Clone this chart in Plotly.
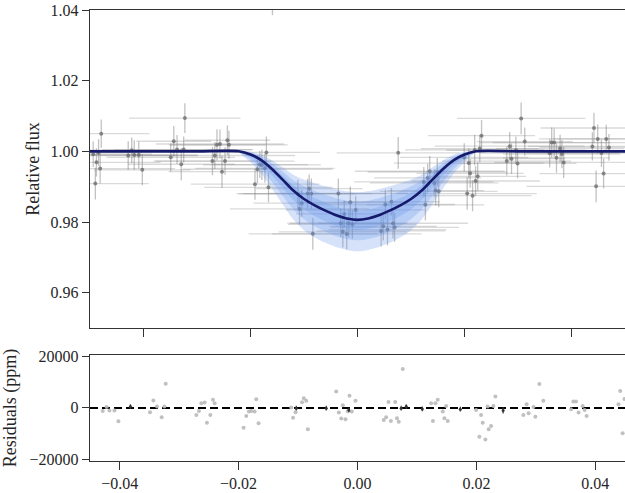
import numpy as np
import plotly.graph_objects as go

# ---------------- data ----------------
# best-fit model
model_t = [-0.05, -0.030, -0.0222, -0.020, -0.018, -0.016, -0.014, -0.012, -0.010, -0.008,
           -0.006, -0.004, -0.002, 0.0, 0.002, 0.004, 0.006, 0.008, 0.010, 0.012, 0.014,
           0.016, 0.018, 0.020, 0.0222, 0.030, 0.05]
model_flux = [1.0, 1.0, 1.0, 0.9991, 0.9975, 0.9950, 0.9920, 0.9889, 0.9865, 0.9847,
              0.9832, 0.9819, 0.9810, 0.9806, 0.9810, 0.9819, 0.9832, 0.9847, 0.9865, 0.9889,
              0.9920, 0.9950, 0.9975, 0.9991, 1.0, 1.0, 1.0]

# credible bands (offsets above / below the model) on the in-transit grid
band_t = [-0.0222, -0.020, -0.018, -0.016, -0.014, -0.012, -0.010, -0.008, -0.006, -0.004,
          -0.002, 0.0, 0.002, 0.004, 0.006, 0.008, 0.010, 0.012, 0.014, 0.016, 0.018, 0.020, 0.0222]
up3 = [0, 0.0008, 0.0016, 0.0025, 0.0035, 0.0045, 0.0055, 0.0063, 0.0069, 0.0074, 0.0077, 0.0078,
       0.0077, 0.0074, 0.0069, 0.0063, 0.0055, 0.0045, 0.0035, 0.0025, 0.0016, 0.0008, 0]
lo3 = [0, 0.0022, 0.0038, 0.0055, 0.0070, 0.0082, 0.0088, 0.0091, 0.0091, 0.0090, 0.0089, 0.0089,
       0.0089, 0.0090, 0.0091, 0.0091, 0.0088, 0.0082, 0.0070, 0.0055, 0.0038, 0.0022, 0]
up2 = [0, 0.0005, 0.0010, 0.0016, 0.0023, 0.0029, 0.0036, 0.0041, 0.0045, 0.0048, 0.0050, 0.0051,
       0.0050, 0.0048, 0.0045, 0.0041, 0.0036, 0.0029, 0.0023, 0.0016, 0.0010, 0.0005, 0]
lo2 = [0, 0.0014, 0.0025, 0.0036, 0.0046, 0.0053, 0.0057, 0.0059, 0.0059, 0.0059, 0.0058, 0.0058,
       0.0058, 0.0059, 0.0059, 0.0059, 0.0057, 0.0053, 0.0046, 0.0036, 0.0025, 0.0014, 0]
up1 = [0, 0.0003, 0.0005, 0.0008, 0.0012, 0.0015, 0.0018, 0.0021, 0.0023, 0.0024, 0.0025, 0.0026,
       0.0025, 0.0024, 0.0023, 0.0021, 0.0018, 0.0015, 0.0012, 0.0008, 0.0005, 0.0003, 0]
lo1 = [0, 0.0007, 0.0013, 0.0018, 0.0023, 0.0027, 0.0029, 0.0030, 0.0030, 0.0030, 0.0029, 0.0029,
       0.0029, 0.0030, 0.0030, 0.0030, 0.0029, 0.0027, 0.0023, 0.0018, 0.0013, 0.0007, 0]

# observations: time, residual (ppm), time error, flux error
time = [-0.0490, -0.0488, -0.0484, -0.0481, -0.0479, -0.0494,
        -0.04286, -0.04173, -0.04089, -0.04022, -0.04220,
        -0.03491, -0.03434, -0.03373, -0.03294, -0.03227, -0.03249,
        -0.02711, -0.02667, -0.02627, -0.02571, -0.02533, -0.02476, -0.02432, -0.02403,
        -0.01916, -0.01871, -0.01827, -0.01787, -0.01731, -0.01703, -0.01664,
        -0.01114, -0.01084, -0.01042, -0.00933, -0.00903, -0.00862, -0.00835,
        -0.00358, -0.00314, -0.00274, -0.00247, -0.00202, -0.00163, -0.00134, -0.00096, -0.00034,
        0.00442, 0.00482, 0.00521, 0.00561, 0.00634, 0.00664, 0.00694, 0.00761,
        0.01239, 0.01269, 0.01311, 0.01350, 0.01434, 0.01462, 0.01491, 0.01518,
        0.01995, 0.02079, 0.02106, 0.02050, 0.02151, 0.02207, 0.02247, 0.02190, 0.02286, 0.02319,
        0.02790, 0.02845, 0.02879, 0.02960, 0.02992, 0.03059, 0.03126,
        0.03592, 0.03630, 0.03676, 0.03719, 0.03787, 0.03820, 0.03854,
        0.0439, 0.0442, 0.0446, 0.0449, 0.0456, 0.0460, 0.0465, 0.0470,
        -0.0159]
resid_ppm = [-9120, -3110, -370, -4890, 5000, -800,
             -1180, -1060, -1060, -5220, 300,
             -1690, 2860, 510, -3650, 9410, 510,
             -2750, -1180, 1840, 2080, -5770, -2750, 3140, 1840,
             -7730, -3140, -1450, -1180, -1450, 3410, -6000,
             120, -3800, -1690, 2160, 3800, 2750, -8350,
             6390, -1840, -4120, 1060, -4390, -1290, 4710, -1450, 2750,
             -4710, -3650, 2270, -5100, 2270, -4040, -5410, 15180,
             1840, -5100, 1840, 3140, -1450, -4040, 780, -5100,
             -780, -2750, -5770, -11260, -12280, -8350, -7060, 510, 780, 4430,
             -2750, 1450, -2080, 300, -3410, 9300, 2750,
             -510, 2470, 2470, -1840, 780, -780, -3140,
             1400, 6600, -9900, 3500, -500, -6300, 3500, 1100,
             51100]
time_err = [0.010, 0.012, 0.008, 0.014, 0.009, 0.011,
            0.013, 0.008, 0.011, 0.009, 0.015,
            0.012, 0.007, 0.014, 0.010, 0.0104, 0.013,
            0.011, 0.015, 0.009, 0.012, 0.010, 0.013, 0.008, 0.011,
            0.012, 0.014, 0.009, 0.011, 0.013, 0.010, 0.012,
            0.011, 0.013, 0.009, 0.012, 0.010, 0.014, 0.012,
            0.013, 0.010, 0.012, 0.009, 0.014, 0.011, 0.010, 0.012, 0.013,
            0.012, 0.010, 0.013, 0.011, 0.009, 0.014, 0.012, 0.0115,
            0.013, 0.011, 0.010, 0.014, 0.012, 0.009, 0.013, 0.011,
            0.012, 0.014, 0.010, 0.013, 0.011, 0.012, 0.009, 0.013, 0.011, 0.010,
            0.012, 0.014, 0.010, 0.013, 0.011, 0.012, 0.009,
            0.013, 0.011, 0.014, 0.010, 0.012, 0.011, 0.013,
            0.012, 0.010, 0.013, 0.011, 0.014, 0.012, 0.010, 0.013,
            0.010]
flux_err = [0.0045, 0.0040, 0.0038, 0.0042, 0.0040, 0.0036,
            0.0040, 0.0042, 0.0038, 0.0044, 0.0036,
            0.0040, 0.0043, 0.0041, 0.0045, 0.0042, 0.0037,
            0.0040, 0.0038, 0.0044, 0.0041, 0.0046, 0.0039, 0.0042, 0.0040,
            0.0044, 0.0040, 0.0038, 0.0043, 0.0041, 0.0045, 0.0042,
            0.0040, 0.0044, 0.0038, 0.0042, 0.0040, 0.0043, 0.0045,
            0.0042, 0.0040, 0.0044, 0.0038, 0.0043, 0.0040, 0.0045, 0.0041, 0.0039,
            0.0044, 0.0040, 0.0042, 0.0045, 0.0039, 0.0043, 0.0041, 0.0045,
            0.0042, 0.0044, 0.0040, 0.0043, 0.0039, 0.0042, 0.0040, 0.0045,
            0.0040, 0.0043, 0.0041, 0.0046, 0.0044, 0.0042, 0.0040, 0.0043, 0.0039, 0.0044,
            0.0041, 0.0040, 0.0043, 0.0039, 0.0042, 0.0045, 0.0040,
            0.0041, 0.0043, 0.0040, 0.0042, 0.0039, 0.0040, 0.0044,
            0.0040, 0.0043, 0.0045, 0.0041, 0.0039, 0.0042, 0.0040, 0.0038,
            0.0074]

# binned residuals (dark marks on the zero line)
bin_t = [-0.0382, -0.0103, -0.00526, -0.00146, 0.00734, 0.0082, 0.0109, 0.0173, 0.0245]
bin_resid = [500, -100, -100, -800, -100, 500, -400, -500, -1000]
bin_err = [900, 900, 900, 900, 900, 900, 900, 900, 1200]

x_top_ticks = [-0.04, -0.02, 0.0, 0.02, 0.04]
y_top_ticks = [0.96, 0.98, 1.00, 1.02, 1.04]
x_bot_ticks = [-0.04, -0.02, 0.0, 0.02, 0.04]
y_bot_ticks = [-20000, 0, 20000]

# ---------------- derived ----------------
t_arr = np.array(time)
flux = np.interp(t_arr, model_t, model_flux) + np.array(resid_ppm) * 1e-6
band_model = np.interp(band_t, model_t, model_flux)

FONT = "Times New Roman, Liberation Serif, Times, serif"
fig = go.Figure()

# observations with error bars
fig.add_trace(go.Scatter(
    x=time, y=flux, mode="markers",
    marker=dict(color="rgba(105,105,105,0.75)", size=4),
    error_x=dict(type="data", array=time_err, color="rgba(140,140,140,0.32)", thickness=1.3, width=0),
    error_y=dict(type="data", array=flux_err, color="rgba(120,120,120,0.45)", thickness=1.3, width=0),
    xaxis="x", yaxis="y", showlegend=False, hoverinfo="skip"))

# credible bands (stacked translucent fills)
for up, lo in [(up3, lo3), (up2, lo2), (up1, lo1)]:
    upper = band_model + np.array(up)
    lower = band_model - np.array(lo)
    fig.add_trace(go.Scatter(
        x=list(band_t) + list(band_t[::-1]),
        y=list(upper) + list(lower[::-1]),
        fill="toself", fillcolor="rgba(100,149,237,0.27)",
        line=dict(width=0, shape="spline", smoothing=0.8),
        mode="lines", xaxis="x", yaxis="y", showlegend=False, hoverinfo="skip"))

# model line
fig.add_trace(go.Scatter(
    x=model_t, y=model_flux, mode="lines",
    line=dict(color="#151a6b", width=2.6, shape="spline", smoothing=0.8),
    xaxis="x", yaxis="y", showlegend=False, hoverinfo="skip"))

# residual panel
fig.add_trace(go.Scatter(
    x=[-0.045, 0.045], y=[0, 0], mode="lines",
    line=dict(color="black", width=2, dash="8px,4px"),
    xaxis="x2", yaxis="y2", showlegend=False, hoverinfo="skip"))
fig.add_trace(go.Scatter(
    x=time, y=resid_ppm, mode="markers",
    marker=dict(color="rgba(185,185,185,0.9)", size=4),
    xaxis="x2", yaxis="y2", showlegend=False, hoverinfo="skip"))
fig.add_trace(go.Scatter(
    x=bin_t, y=bin_resid, mode="markers",
    marker=dict(color="#333333", size=3),
    error_y=dict(type="data", array=bin_err, color="#333333", thickness=1.2, width=0),
    xaxis="x2", yaxis="y2", showlegend=False, hoverinfo="skip"))

tickfont = dict(family=FONT, size=16, color="#262626")
axis_common = dict(showline=True, linecolor="#333333", linewidth=1.4, ticks="outside",
                   tickcolor="#333333", tickwidth=1.4, showgrid=False, zeroline=False,
                   tickfont=tickfont)

fig.update_layout(
    width=625, height=493,
    margin=dict(l=90, r=0, t=10, b=32, autoexpand=False),
    paper_bgcolor="white", plot_bgcolor="white",
    font=dict(family=FONT, size=16, color="#262626"),
    xaxis=dict(domain=[0, 1], range=[-0.05, 0.05], tickvals=x_top_ticks, showticklabels=False,
               ticklen=8, mirror=True, anchor="y", **axis_common),
    yaxis=dict(domain=[0.2949, 1], range=[0.95, 1.04], tickvals=y_top_ticks, tickformat=".2f",
               ticklen=7, anchor="x", automargin=False,
               title=dict(text="Relative flux", standoff=6, font=dict(family=FONT, size=18)),
               **axis_common),
    xaxis2=dict(domain=[0, 1], range=[-0.045, 0.045], tickvals=x_bot_ticks, tickformat=".2f",
                ticklen=8, mirror=True, anchor="y2", automargin=False, **axis_common),
    yaxis2=dict(domain=[0, 0.235], range=[-20700, 20600], tickvals=y_bot_ticks, tickformat="d",
                ticklen=7, anchor="x2", automargin=False,
                title=dict(text="Residuals (ppm)", standoff=8, font=dict(family=FONT, size=18)),
                **axis_common),
)

# remove the default page margin so the figure sits at the window's top-left corner
fig.write_html("out.html", config={"displayModeBar": False},
               post_script="document.body.style.margin='0px';")
